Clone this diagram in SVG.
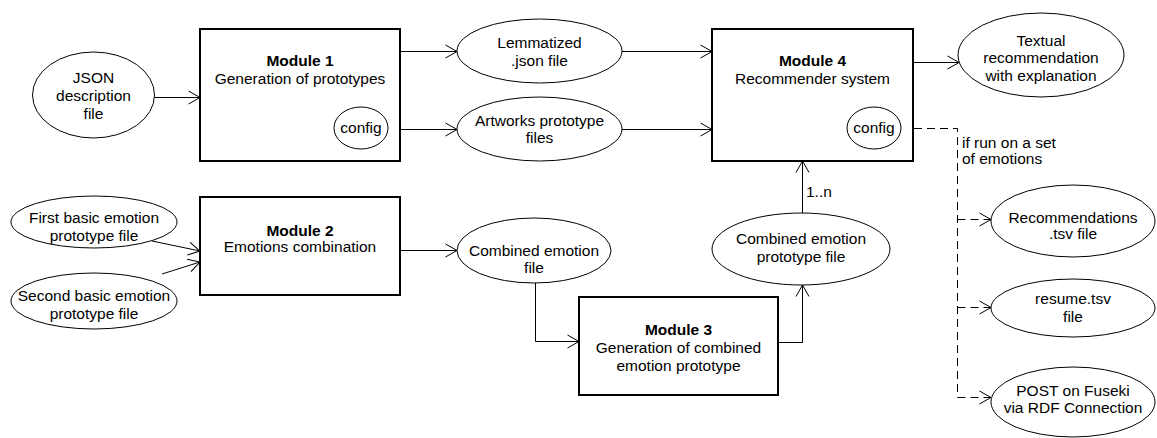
<svg xmlns="http://www.w3.org/2000/svg" width="1157" height="438" viewBox="0 0 1157 438">
<defs>
<marker id="arr" markerUnits="userSpaceOnUse" markerWidth="14" markerHeight="16" refX="12" refY="7" orient="auto" viewBox="0 0 14 14">
<path d="M0.5,0.5 L12,7 L0.5,13.5" fill="none" stroke="#000" stroke-width="1"/>
</marker>
<style>
text{font-family:"Liberation Sans",Arial,sans-serif;font-size:15.5px;fill:#000;text-anchor:middle}
.b{font-weight:bold}
.l{text-anchor:start}
.mod{fill:#fff;stroke:#000;stroke-width:2}
.el{fill:#fff;stroke:#000;stroke-width:1}
.e{fill:none;stroke:#000;stroke-width:1;marker-end:url(#arr)}
.t{fill:none;stroke:#000;stroke-width:1}
.d{stroke-dasharray:8 5}
</style>
</defs>
<rect width="1157" height="438" fill="#fff"/>

<g id="connectors">
<path class="e" d="M154.5,97.5 H200"/>
<path class="e" d="M400,51.5 H457"/>
<path class="e" d="M400,129.5 H457"/>
<path class="e" d="M622,51.5 H712"/>
<path class="e" d="M622,129.5 H712"/>
<path class="e" d="M913,62.5 H959"/>
<path class="e" d="M152,241 L200,251"/>
<path class="e" d="M162,274 L200,262"/>
<path class="e" d="M400,250.5 H457"/>
<path class="e" d="M535.5,283 V341.5 H579"/>
<path class="e" d="M778,342.5 H802.5 V285"/>
<path class="e" d="M802.5,213 V161"/>
<path class="t d" d="M901,128.5 H957.5 V397.5"/>
<path class="e d" d="M957.5,219.5 H991"/>
<path class="e d" d="M957.5,307.5 H991"/>
<path class="e d" d="M957.5,397.5 H991"/>
<text class="l" x="806" y="197">1..n</text>
<text class="l" x="962" y="147.5">if run on a set</text>
<text class="l" x="962" y="164">of emotions</text>
</g>

<g id="json">
<ellipse class="el" cx="93.5" cy="95" rx="61" ry="43"/>
<text x="93.5" y="83">JSON</text>
<text x="93.5" y="101">description</text>
<text x="93.5" y="119">file</text>
</g>

<g id="module1">
<rect class="mod" x="200" y="29" width="200" height="132"/>
<text class="b" x="300" y="66">Module 1</text>
<text x="300" y="84">Generation of prototypes</text>
</g>
<g id="config1">
<ellipse class="el" cx="361" cy="128" rx="27" ry="21"/>
<text x="361" y="133">config</text>
</g>

<g id="lemmatized">
<ellipse class="el" cx="539.5" cy="51" rx="82.5" ry="32"/>
<text x="539.5" y="48">Lemmatized</text>
<text x="539.5" y="66">.json file</text>
</g>

<g id="artworks">
<ellipse class="el" cx="539.5" cy="129" rx="82.5" ry="32"/>
<text x="539.5" y="126">Artworks prototype</text>
<text x="539.5" y="143">files</text>
</g>

<g id="module4">
<rect class="mod" x="712" y="29" width="201" height="132"/>
<text class="b" x="812.5" y="66">Module 4</text>
<text x="812.5" y="84">Recommender system</text>
</g>
<g id="config4">
<ellipse class="el" cx="874" cy="128" rx="27" ry="21"/>
<text x="874" y="133">config</text>
</g>

<g id="textual">
<ellipse class="el" cx="1041" cy="55" rx="83" ry="42"/>
<text x="1041" y="45.5">Textual</text>
<text x="1041" y="63">recommendation</text>
<text x="1041" y="80.5">with explanation</text>
</g>

<g id="first">
<ellipse class="el" cx="94" cy="222" rx="83" ry="26"/>
<text x="94" y="222.5">First basic emotion</text>
<text x="94" y="240.5">prototype file</text>
</g>

<g id="second">
<ellipse class="el" cx="94" cy="301" rx="83" ry="28"/>
<text x="94" y="300.5">Second basic emotion</text>
<text x="94" y="318.5">prototype file</text>
</g>

<g id="module2">
<rect class="mod" x="200" y="197" width="200" height="98"/>
<text class="b" x="300" y="235.5">Module 2</text>
<text x="300" y="251.5">Emotions combination</text>
</g>

<g id="combined-file">
<ellipse class="el" cx="534" cy="250.5" rx="77" ry="32.5"/>
<text x="534" y="255.5">Combined emotion</text>
<text x="534" y="272.5">file</text>
</g>

<g id="module3">
<rect class="mod" x="579" y="297" width="199" height="98"/>
<text class="b" x="678.5" y="334.5">Module 3</text>
<text x="678.5" y="352.5">Generation of combined</text>
<text x="678.5" y="370.5">emotion prototype</text>
</g>

<g id="combined-proto">
<ellipse class="el" cx="801" cy="249" rx="89" ry="36"/>
<text x="801" y="243.5">Combined emotion</text>
<text x="801" y="262">prototype file</text>
</g>

<g id="recommendations">
<ellipse class="el" cx="1073" cy="221" rx="82" ry="36"/>
<text x="1073" y="222.5">Recommendations</text>
<text x="1073" y="239">.tsv file</text>
</g>

<g id="resume">
<ellipse class="el" cx="1073" cy="308" rx="82" ry="29"/>
<text x="1073" y="303.5">resume.tsv</text>
<text x="1073" y="322">file</text>
</g>

<g id="post">
<ellipse class="el" cx="1073" cy="402" rx="82" ry="35"/>
<text x="1073" y="395.5">POST on Fuseki</text>
<text x="1073" y="412.5">via RDF Connection</text>
</g>
</svg>
